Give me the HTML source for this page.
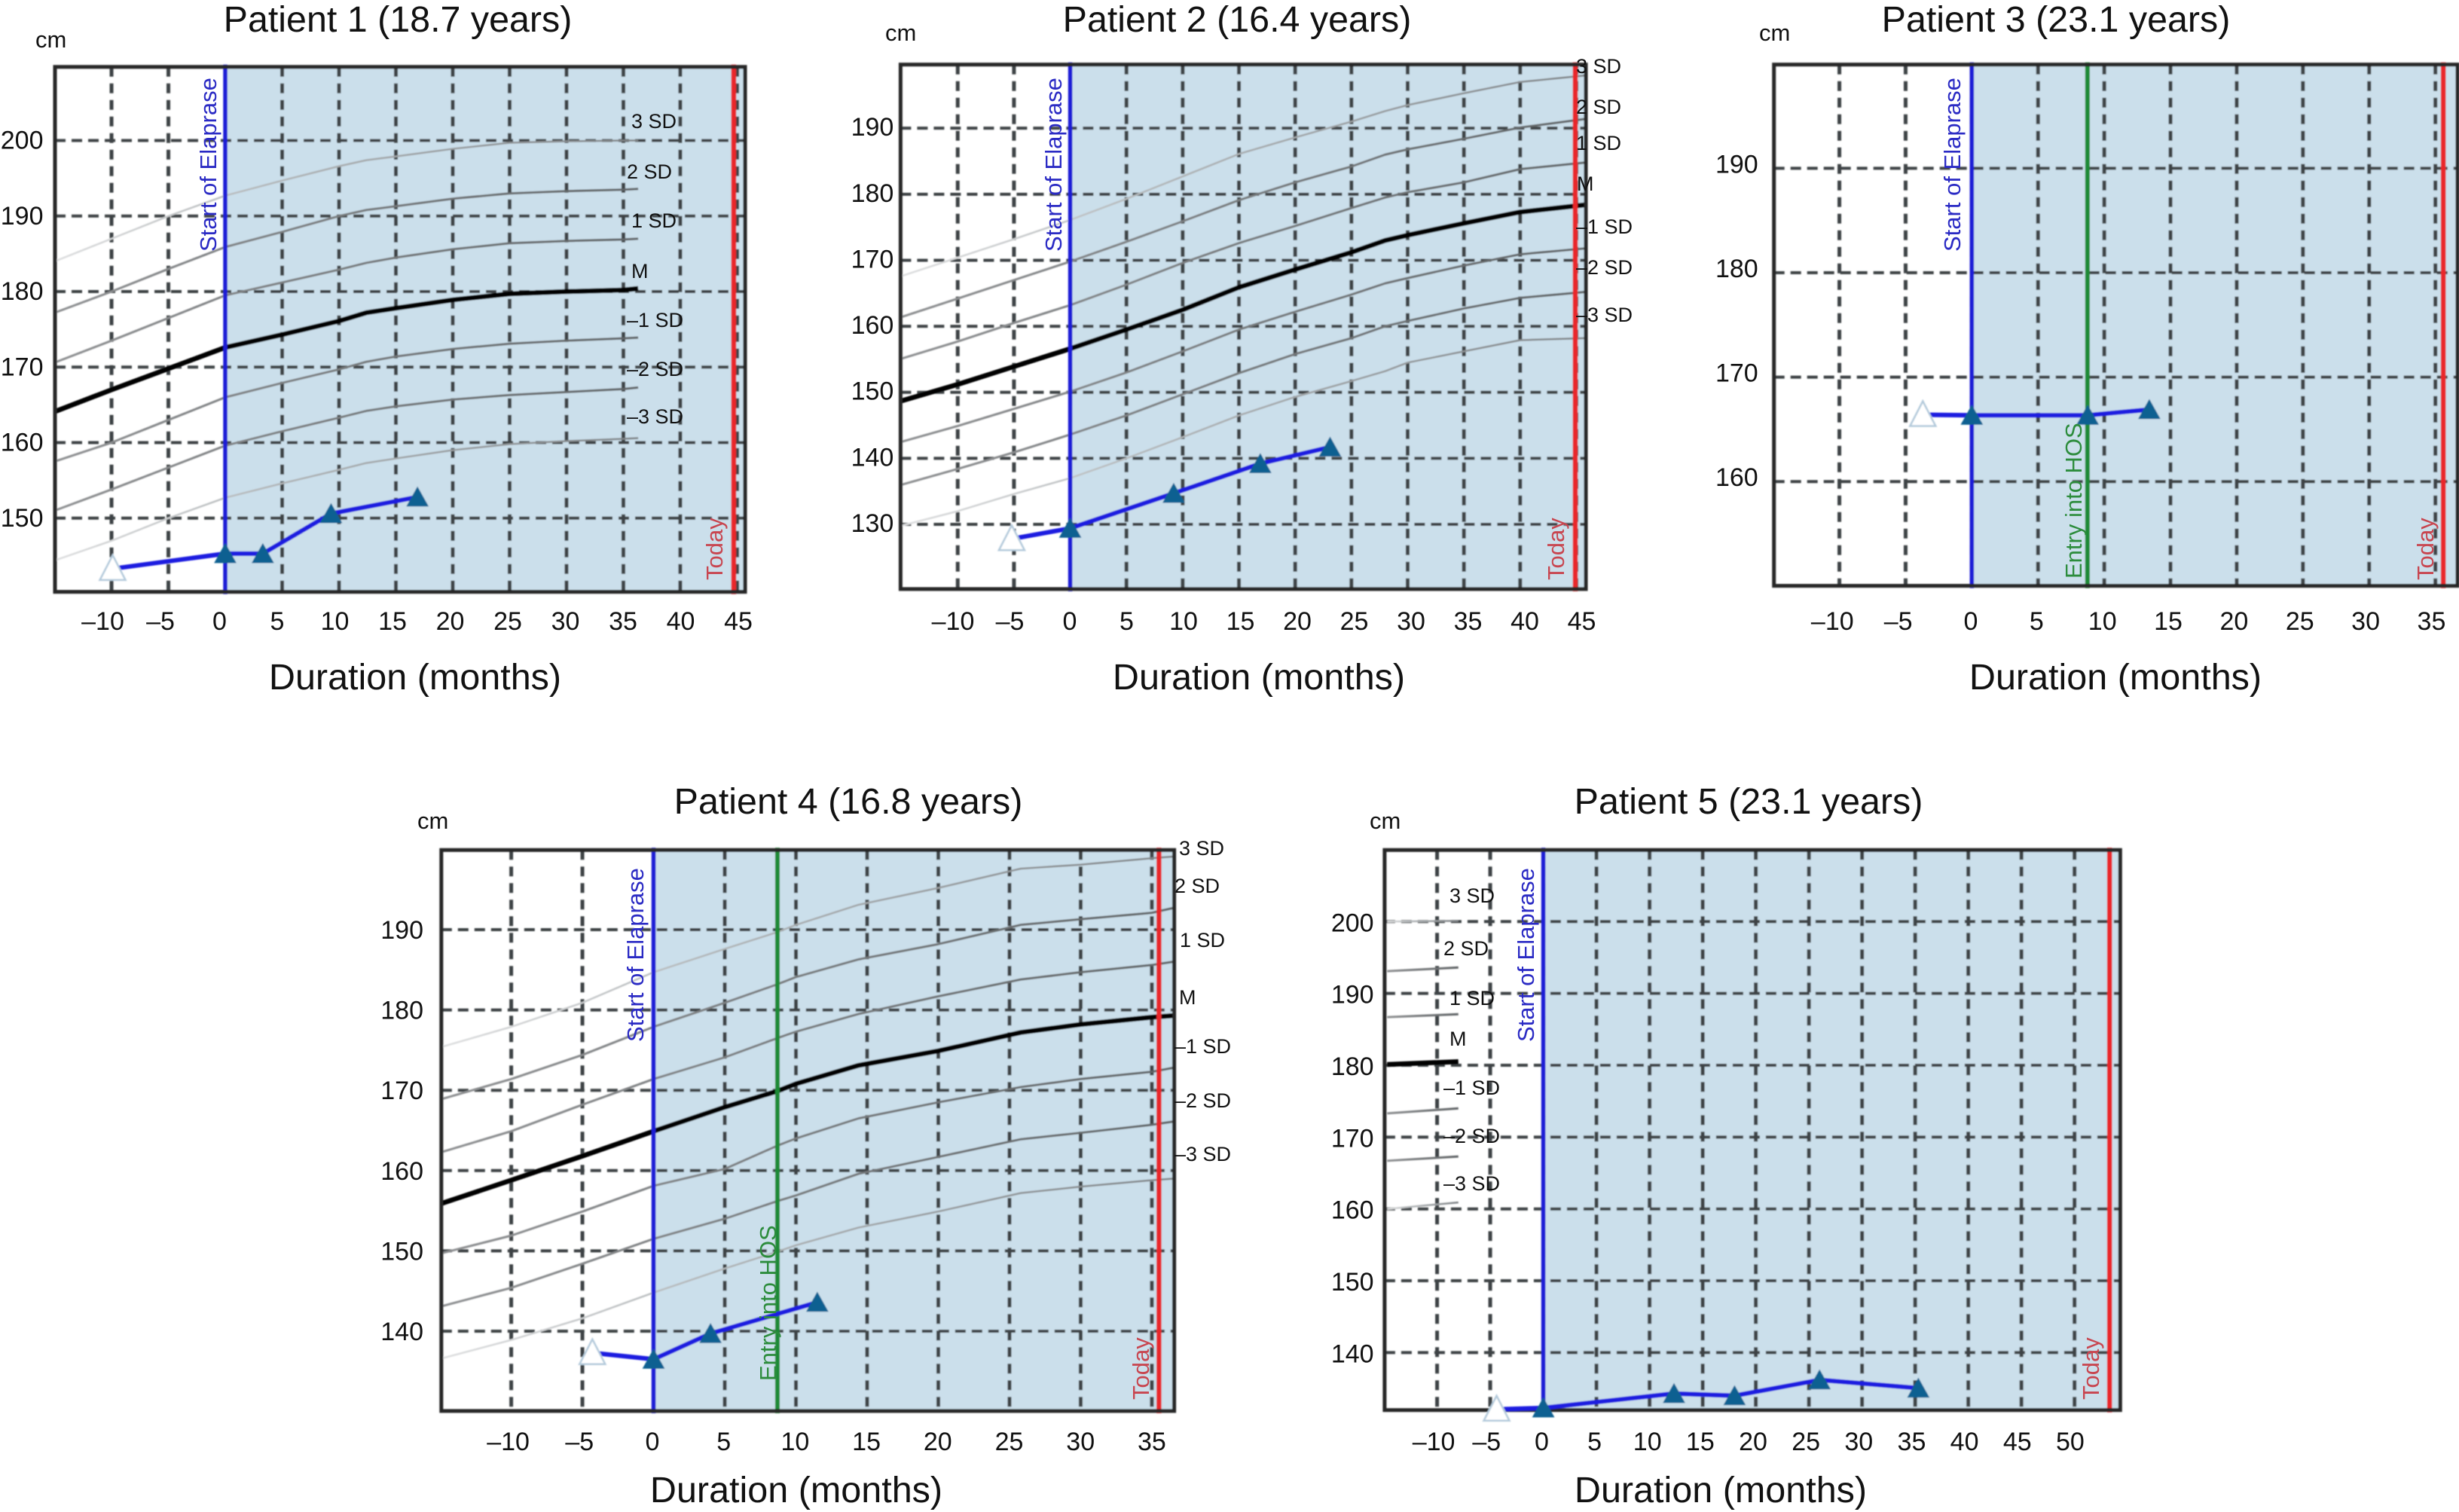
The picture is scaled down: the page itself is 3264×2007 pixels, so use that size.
<!DOCTYPE html>
<html lang="en">
<head>
<meta charset="utf-8">
<title>Height growth charts for five patients</title>
<style>
  html, body { margin: 0; padding: 0; background: #fff; }
  svg { display: block; }
  text { font-family: "Liberation Sans", sans-serif; fill: #111; }
  .title { font-size: 48.4px; text-anchor: middle; }
  .axis-title { font-size: 48.5px; text-anchor: middle; }
  .unit { font-size: 31px; }
  .sd { font-size: 27px; }
  .ev { font-size: 31px; }
  .ev-blue { fill: #2a2ac4; }
  .ev-green { fill: #2c8c3c; }
  .ev-red { fill: #c8454f; }
</style>
</head>
<body>
<svg id="figure" xmlns="http://www.w3.org/2000/svg" width="3264" height="2007" viewBox="0 0 3264 2007">
  <defs>
    <filter id="soft" x="-2%" y="-2%" width="104%" height="104%"><feGaussianBlur stdDeviation="0.9"/></filter>
    <linearGradient id="fadeLight" x1="0" y1="0" x2="1" y2="0">
      <stop offset="0" stop-color="#dedfe0"/>
      <stop offset="0.35" stop-color="#b4b8ba"/>
      <stop offset="1" stop-color="#7e8285"/>
    </linearGradient>
    <linearGradient id="fadeMid" x1="0" y1="0" x2="1" y2="0">
      <stop offset="0" stop-color="#8f9193"/>
      <stop offset="1" stop-color="#5f6365"/>
    </linearGradient>
  </defs>
  <rect width="3264" height="2007" fill="#fff"/>

  <g id="p1">
    <g id="p1-marks"></g>
    <text class="title" x="528" y="42">Patient 1 (18.7 years)</text>
    <text class="unit" x="47" y="63">cm</text>
    <text class="axis-title" x="551" y="915">Duration (months)</text>
    <text class="ev ev-blue" transform="translate(287 334) rotate(-90)">Start of Elaprase</text>
    <text class="ev ev-red" transform="translate(959 770) rotate(-90)">Today</text>
    <text class="sd" x="838" y="170">3 SD</text>
    <text class="sd" x="832" y="237">2 SD</text>
    <text class="sd" x="838" y="302">1 SD</text>
    <text class="sd" x="838" y="369">M</text>
    <text class="sd" x="832" y="434">–1 SD</text>
    <text class="sd" x="832" y="499">–2 SD</text>
    <text class="sd" x="832" y="562">–3 SD</text>
  </g>

  <g id="p2">
    <g id="p2-marks"></g>
    <text class="title" x="1642" y="42">Patient 2 (16.4 years)</text>
    <text class="unit" x="1175" y="54">cm</text>
    <text class="axis-title" x="1671" y="915">Duration (months)</text>
    <text class="ev ev-blue" transform="translate(1409 334) rotate(-90)">Start of Elaprase</text>
    <text class="ev ev-red" transform="translate(2076 770) rotate(-90)">Today</text>
    <text class="sd" x="2092" y="97">3 SD</text>
    <text class="sd" x="2092" y="151">2 SD</text>
    <text class="sd" x="2092" y="199">1 SD</text>
    <text class="sd" x="2093" y="253">M</text>
    <text class="sd" x="2092" y="310">–1 SD</text>
    <text class="sd" x="2092" y="364">–2 SD</text>
    <text class="sd" x="2092" y="427">–3 SD</text>
  </g>

  <g id="p3">
    <g id="p3-marks"></g>
    <text class="title" x="2729" y="42">Patient 3 (23.1 years)</text>
    <text class="unit" x="2335" y="54">cm</text>
    <text class="axis-title" x="2808" y="915">Duration (months)</text>
    <text class="ev ev-blue" transform="translate(2602 334) rotate(-90)">Start of Elaprase</text>
    <text class="ev ev-green" transform="translate(2763 768) rotate(-90)">Entry into HOS</text>
    <text class="ev ev-red" transform="translate(3230 770) rotate(-90)">Today</text>
  </g>

  <g id="p4">
    <g id="p4-marks"></g>
    <text class="title" x="1126" y="1080">Patient 4 (16.8 years)</text>
    <text class="unit" x="554" y="1100">cm</text>
    <text class="axis-title" x="1057" y="1994">Duration (months)</text>
    <text class="ev ev-blue" transform="translate(854 1383) rotate(-90)">Start of Elaprase</text>
    <text class="ev ev-green" transform="translate(1030 1833) rotate(-90)">Entry into HOS</text>
    <text class="ev ev-red" transform="translate(1525 1858) rotate(-90)">Today</text>
    <text class="sd" x="1565" y="1135">3 SD</text>
    <text class="sd" x="1559" y="1185">2 SD</text>
    <text class="sd" x="1566" y="1257">1 SD</text>
    <text class="sd" x="1565" y="1333">M</text>
    <text class="sd" x="1559" y="1398">–1 SD</text>
    <text class="sd" x="1559" y="1470">–2 SD</text>
    <text class="sd" x="1559" y="1541">–3 SD</text>
  </g>

  <g id="p5">
    <g id="p5-marks"></g>
    <text class="title" x="2321" y="1080">Patient 5 (23.1 years)</text>
    <text class="unit" x="1818" y="1100">cm</text>
    <text class="axis-title" x="2284" y="1994">Duration (months)</text>
    <text class="ev ev-blue" transform="translate(2036 1383) rotate(-90)">Start of Elaprase</text>
    <text class="ev ev-red" transform="translate(2786 1858) rotate(-90)">Today</text>
    <text class="sd" x="1924" y="1198">3 SD</text>
    <text class="sd" x="1916" y="1268">2 SD</text>
    <text class="sd" x="1924" y="1334">1 SD</text>
    <text class="sd" x="1924" y="1388">M</text>
    <text class="sd" x="1916" y="1453">–1 SD</text>
    <text class="sd" x="1916" y="1517">–2 SD</text>
    <text class="sd" x="1916" y="1580">–3 SD</text>
  </g>
</svg>

<script>
// ---------- Patient 1 ----------
const p1XTicks = [-10, -5, 0, 5, 10, 15, 20, 25, 30, 35, 40, 45];
const p1YTicks = [200, 190, 180, 170, 160, 150];
const p1CurveMonths = [-15, -10, -5, 0, 5, 10, 12.4, 15, 20, 25, 30, 35, 36.3];
const p1Plus3 = [184, 187, 190, 192.7, 194.7, 196.6, 197.4, 197.9, 198.9, 199.7, 199.9, 200, 200];
const p1Plus2 = [177.2, 180, 183, 185.9, 187.9, 190, 190.8, 191.3, 192.3, 193, 193.3, 193.5, 193.6];
const p1Plus1 = [170.6, 173.5, 176.5, 179.5, 181.2, 182.9, 183.8, 184.5, 185.6, 186.4, 186.7, 186.9, 187];
const p1Mean = [164.1, 167, 169.8, 172.6, 174.3, 176.1, 177.2, 177.8, 178.9, 179.7, 180, 180.2, 180.4];
const p1Minus1 = [157.5, 160, 163, 166, 167.9, 169.7, 170.7, 171.4, 172.4, 173.1, 173.5, 173.8, 173.9];
const p1Minus2 = [151, 153.8, 156.7, 159.6, 161.5, 163.3, 164.2, 164.8, 165.7, 166.3, 166.7, 167.1, 167.3];
const p1Minus3 = [144.4, 147, 150, 152.7, 154.6, 156.4, 157.3, 157.9, 159, 159.8, 160.2, 160.5, 160.6];
const p1VisitMonths = [-9.9, 0, 3.3, 9.3, 16.9];
const p1VisitHeights = [143.3, 145.3, 145.3, 150.6, 152.8];
const p1Events = { start: 0, today: 44.7 };

// ---------- Patient 2 ----------
const p2XTicks = [-10, -5, 0, 5, 10, 15, 20, 25, 30, 35, 40, 45];
const p2YTicks = [190, 180, 170, 160, 150, 140, 130];
const p2CurveMonths = [-15, -10, -5, 0, 5, 10, 15, 20, 25, 28, 30, 35, 40, 45.8];
const p2Plus3 = [167.6, 170.4, 173.2, 176.1, 179.3, 182.7, 186.1, 188.6, 191, 192.6, 193.5, 195.3, 197, 198];
const p2Plus2 = [161.4, 164.2, 167, 169.8, 172.8, 175.9, 179.1, 181.8, 184.2, 186, 186.8, 188.4, 190.1, 191.4];
const p2Plus1 = [155.1, 157.7, 160.5, 163.2, 166.3, 169.6, 172.6, 175.2, 177.9, 179.5, 180.3, 181.8, 183.8, 184.8];
const p2Mean = [148.7, 151.2, 153.9, 156.6, 159.5, 162.5, 165.9, 168.6, 171.2, 173, 173.8, 175.6, 177.3, 178.4];
const p2Minus1 = [142.5, 144.9, 147.5, 150.1, 153, 156.2, 159.5, 162.2, 164.8, 166.5, 167.3, 169.2, 170.9, 171.8];
const p2Minus2 = [136, 138.4, 140.9, 143.6, 146.5, 149.7, 152.9, 155.8, 158.2, 160, 160.8, 162.7, 164.3, 165.2];
const p2Minus3 = [129.8, 132, 134.6, 137, 140, 143.2, 146.5, 149.3, 151.7, 153.2, 154.5, 156.2, 157.9, 158.2];
const p2VisitMonths = [-5.2, 0, 9.2, 16.9, 23.1];
const p2VisitHeights = [127.8, 129.4, 134.7, 139.2, 141.7];
const p2Events = { start: 0, today: 44.9 };

// ---------- Patient 3 ----------
const p3XTicks = [-10, -5, 0, 5, 10, 15, 20, 25, 30, 35];
const p3YTicks = [190, 180, 170, 160];
const p3VisitMonths = [-3.7, 0, 8.75, 13.4];
const p3VisitHeights = [166.4, 166.35, 166.35, 166.9];
const p3Events = { start: 0, entry: 8.73, today: 35.6 };

// ---------- Patient 4 ----------
const p4XTicks = [-10, -5, 0, 5, 10, 15, 20, 25, 30, 35];
const p4YTicks = [190, 180, 170, 160, 150, 140];
const p4CurveMonths = [-14.9, -10, -5, 0, 5, 8.7, 10, 14.4, 20, 25.8, 30, 35, 36.5];
const p4Plus3 = [175.4, 177.9, 180.9, 184.7, 187.6, 189.7, 190.6, 193.1, 195.2, 197.6, 198.1, 198.9, 199.1];
const p4Plus2 = [168.9, 171.4, 174.4, 177.9, 180.9, 183.2, 184.1, 186.3, 188.2, 190.6, 191.3, 192.1, 192.7];
const p4Plus1 = [162.3, 164.9, 168.2, 171.4, 174.1, 176.5, 177.3, 179.5, 181.7, 183.8, 184.7, 185.6, 186];
const p4Mean = [155.9, 158.8, 161.8, 164.9, 167.9, 169.9, 170.8, 173.1, 174.9, 177.2, 178.2, 179.1, 179.3];
const p4Minus1 = [149.7, 151.9, 154.9, 158.1, 160.2, 163.1, 164, 166.5, 168.5, 170.4, 171.4, 172.3, 172.8];
const p4Minus2 = [143.1, 145.4, 148.4, 151.5, 154, 156.2, 156.9, 159.6, 161.7, 163.9, 164.7, 165.7, 166.1];
const p4Minus3 = [136.6, 138.9, 141.6, 144.8, 147.8, 149.9, 150.7, 152.9, 154.9, 157.2, 158, 158.8, 159];
const p4VisitMonths = [-4.3, 0, 4, 11.5];
const p4VisitHeights = [137.3, 136.5, 139.7, 143.6];
const p4Events = { start: 0, entry: 8.7, today: 35.5 };

// ---------- Patient 5 ----------
const p5XTicks = [-10, -5, 0, 5, 10, 15, 20, 25, 30, 35, 40, 45, 50];
const p5YTicks = [200, 190, 180, 170, 160, 150, 140];
const p5CurveMonths = [-14.7, -8];
const p5Plus3 = [200, 200.1];
const p5Plus2 = [193.1, 193.6];
const p5Plus1 = [186.7, 187.1];
const p5Mean = [180.1, 180.5];
const p5Minus1 = [173.3, 174];
const p5Minus2 = [166.7, 167.3];
const p5Minus3 = [160, 160.9];
const p5VisitMonths = [-4.4, 0, 12.3, 18, 26, 35.3];
const p5VisitHeights = [132.1, 132.3, 134.3, 134, 136.2, 135.05];
const p5Events = { start: 0, today: 53.3 };

const SVGNS = 'http://www.w3.org/2000/svg';

function make(parent, tag, attrs, name) {
  const el = document.createElementNS(SVGNS, tag);
  for (const k in attrs) el.setAttribute(k, attrs[k]);
  
  
  parent.appendChild(el);
  return el;
}

function drawPanel(cfg) {
  const root = document.getElementById(cfg.id + '-marks');
  const soft = make(root, 'g', { filter: 'url(#soft)' }, cfg.id + '-plot-area');
  const x = v => cfg.left + (v - cfg.xMin) / (cfg.xMax - cfg.xMin) * (cfg.right - cfg.left);
  const y = v => cfg.bottom - (v - cfg.yMin) / (cfg.yMax - cfg.yMin) * (cfg.bottom - cfg.top);

  make(soft, 'rect', {
    x: x(cfg.events.start), y: cfg.top,
    width: cfg.right - x(cfg.events.start), height: cfg.bottom - cfg.top,
    fill: '#cbdfeb'
  }, 'treatment-period-shading');

  cfg.xTicks.forEach(t => {
    make(soft, 'line', {
      x1: x(t), x2: x(t), y1: cfg.top, y2: cfg.bottom,
      stroke: '#3d4245', 'stroke-width': 5, 'stroke-dasharray': '13 9'
    }, 'vertical-gridline');
  });
  cfg.yTicks.forEach(t => {
    make(soft, 'line', {
      x1: cfg.left, x2: cfg.right, y1: y(t), y2: y(t),
      stroke: '#3d4245', 'stroke-width': 4, 'stroke-dasharray': '14 8'
    }, 'horizontal-gridline');
  });

  (cfg.curves || []).forEach(c => {
    const pts = c.values.map((v, i) => x(cfg.curveMonths[i]) + ',' + y(v)).join(' ');
    make(soft, 'polyline', {
      points: pts, fill: 'none', stroke: c.color,
      'stroke-width': c.width, 'stroke-linejoin': 'round'
    }, c.name);
  });

  make(soft, 'line', {
    x1: x(cfg.events.start), x2: x(cfg.events.start), y1: cfg.top - 3, y2: cfg.bottom + 3,
    stroke: '#1f1fd6', 'stroke-width': 5.5
  }, 'start-of-elaprase-line');
  if (cfg.events.entry !== undefined) {
    make(soft, 'line', {
      x1: x(cfg.events.entry), x2: x(cfg.events.entry), y1: cfg.top - 3, y2: cfg.bottom + 3,
      stroke: '#1f8a34', 'stroke-width': 6
    }, 'entry-into-hos-line');
  }
  make(soft, 'line', {
    x1: x(cfg.events.today), x2: x(cfg.events.today), y1: cfg.top - 3, y2: cfg.bottom + 3,
    stroke: '#e9262c', 'stroke-width': 6.5
  }, 'today-line');

  make(soft, 'rect', {
    x: cfg.left, y: cfg.top, width: cfg.right - cfg.left, height: cfg.bottom - cfg.top,
    fill: 'none', stroke: '#262626', 'stroke-width': 5
  }, 'plot-border');

  make(soft, 'polyline', {
    points: cfg.visitMonths.map((m, i) => x(m) + ',' + y(cfg.visitHeights[i])).join(' '),
    fill: 'none', stroke: '#1f1fe0', 'stroke-width': 6, 'stroke-linejoin': 'round'
  }, 'height-line');

  cfg.visitMonths.forEach((m, i) => {
    const cx = x(m), cy = y(cfg.visitHeights[i]);
    const open = i === 0;
    const half = open ? 17 : 14;
    const up = open ? 18 : 13;
    const down = open ? 15 : 12;
    make(soft, 'polygon', {
      points: cx + ',' + (cy - up) + ' ' + (cx + half) + ',' + (cy + down) + ' ' + (cx - half) + ',' + (cy + down),
      fill: open ? '#ffffff' : '#0b6191',
      stroke: open ? '#b4cadb' : '#0b6191',
      'stroke-width': open ? 2.5 : 1
    }, open ? 'pretreatment-visit-marker' : 'visit-marker');
  });

  cfg.yTicks.forEach(t => {
    const lab = make(root, 'text', {
      x: cfg.yLabelRight, y: y(t) + 12 + cfg.yLabelShift,
      'text-anchor': 'end', 'font-size': 34
    }, 'y-tick-label');
    lab.textContent = String(t);
  });
  cfg.xTicks.forEach(t => {
    const shift = t < 0 ? cfg.negShift : 0;
    const lab = make(root, 'text', {
      x: cfg.labelZero + t * cfg.labelStep + shift, y: cfg.xLabelBaseline,
      'text-anchor': 'middle', 'font-size': 34
    }, 'x-tick-label');
    lab.textContent = t < 0 ? '\u2013' + Math.abs(t) : String(t);
  });
}

function curveSet(plus3, plus2, plus1, mean, minus1, minus2, minus3) {
  return [
    { name: 'plus-3-sd-curve', values: plus3, color: 'url(#fadeLight)', width: 2.5 },
    { name: 'plus-2-sd-curve', values: plus2, color: 'url(#fadeMid)', width: 3 },
    { name: 'plus-1-sd-curve', values: plus1, color: 'url(#fadeMid)', width: 3 },
    { name: 'mean-curve', values: mean, color: '#050505', width: 6.5 },
    { name: 'minus-1-sd-curve', values: minus1, color: 'url(#fadeMid)', width: 3 },
    { name: 'minus-2-sd-curve', values: minus2, color: 'url(#fadeMid)', width: 3 },
    { name: 'minus-3-sd-curve', values: minus3, color: 'url(#fadeLight)', width: 2.5 }
  ];
}

drawPanel({
  id: 'p1', left: 73, right: 989, top: 88.8, bottom: 785.6,
  xMin: -14.97, xMax: 45.7, yMin: 140.24, yMax: 209.75,
  xTicks: p1XTicks, yTicks: p1YTicks, events: p1Events,
  curveMonths: p1CurveMonths,
  curves: curveSet(p1Plus3, p1Plus2, p1Plus1, p1Mean, p1Minus1, p1Minus2, p1Minus3),
  visitMonths: p1VisitMonths, visitHeights: p1VisitHeights,
  yLabelRight: 57.5, yLabelShift: -1,
  labelZero: 291.5, labelStep: 15.3, negShift: -2, xLabelBaseline: 836
});
drawPanel({
  id: 'p2', left: 1195.4, right: 2105, top: 85.7, bottom: 781.9,
  xMin: -15.08, xMax: 45.84, yMin: 120.2, yMax: 199.64,
  xTicks: p2XTicks, yTicks: p2YTicks, events: p2Events,
  curveMonths: p2CurveMonths,
  curves: curveSet(p2Plus3, p2Plus2, p2Plus1, p2Mean, p2Minus1, p2Minus2, p2Minus3),
  visitMonths: p2VisitMonths, visitHeights: p2VisitHeights,
  yLabelRight: 1186.3, yLabelShift: -2,
  labelZero: 1420, labelStep: 15.1, negShift: -4, xLabelBaseline: 836
});
drawPanel({
  id: 'p3', left: 2354.7, right: 3262, top: 85.7, bottom: 777.6,
  xMin: -14.94, xMax: 36.67, yMin: 150.02, yMax: 199.93,
  xTicks: p3XTicks, yTicks: p3YTicks, events: p3Events,
  visitMonths: p3VisitMonths, visitHeights: p3VisitHeights,
  yLabelRight: 2333.7, yLabelShift: -6,
  labelZero: 2616, labelStep: 17.47, negShift: -9, xLabelBaseline: 836
});
drawPanel({
  id: 'p4', left: 585.8, right: 1558.6, top: 1128.3, bottom: 1872.9,
  xMin: -14.91, xMax: 36.57, yMin: 130.06, yMax: 199.92,
  xTicks: p4XTicks, yTicks: p4YTicks, events: p4Events,
  curveMonths: p4CurveMonths,
  curves: curveSet(p4Plus3, p4Plus2, p4Plus1, p4Mean, p4Minus1, p4Minus2, p4Minus3),
  visitMonths: p4VisitMonths, visitHeights: p4VisitHeights,
  yLabelRight: 562, yLabelShift: 0,
  labelZero: 866, labelStep: 18.94, negShift: -2, xLabelBaseline: 1925
});
drawPanel({
  id: 'p5', left: 1837.9, right: 2814.3, top: 1128.3, bottom: 1871.7,
  xMin: -14.94, xMax: 54.3, yMin: 132, yMax: 209.96,
  xTicks: p5XTicks, yTicks: p5YTicks, events: p5Events,
  curveMonths: p5CurveMonths,
  curves: curveSet(p5Plus3, p5Plus2, p5Plus1, p5Mean, p5Minus1, p5Minus2, p5Minus3),
  visitMonths: p5VisitMonths, visitHeights: p5VisitHeights,
  yLabelRight: 1823.6, yLabelShift: 1,
  labelZero: 2046.4, labelStep: 14.03, negShift: -3, xLabelBaseline: 1925
});
</script>
</body>
</html>
